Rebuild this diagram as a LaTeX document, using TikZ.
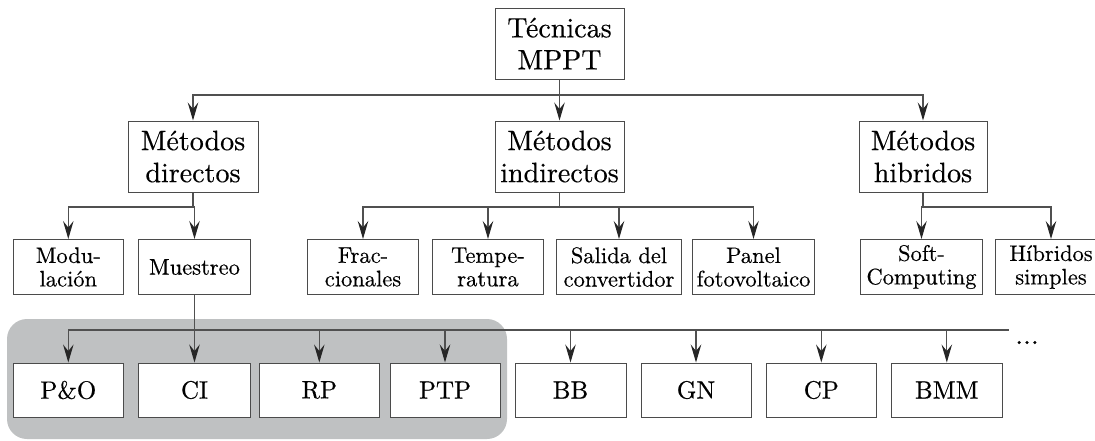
\documentclass[tikz,border=0pt]{standalone}
\usepackage{fontspec}
\setmainfont{lmroman10-regular.otf}[FakeBold=0.4]
\usetikzlibrary{arrows.meta}
\definecolor{linec}{RGB}{80,80,80}
\definecolor{boxc}{RGB}{75,75,75}
\definecolor{grayc}{RGB}{191,193,194}
\tikzset{
  box/.style={draw=boxc, line width=1pt, fill=white, inner sep=0pt, align=center},
  bigbox/.style={box, font=\fontsize{28}{32}\selectfont},
  midbox/.style={box, minimum height=55pt, font=\fontsize{22.5}{23.5}\selectfont},
  lowbox/.style={box, minimum height=54pt, font=\fontsize{25}{25}\selectfont},
  conn/.style={draw=linec, line width=1.2pt},
  arr/.style={conn, -{Stealth[length=18pt,width=10.5pt,inset=6.5pt,color=black!85]}}
}
\begin{document}
\begin{tikzpicture}[x=1pt,y=-1pt]
\useasboundingbox (0,0) rectangle (1095,440);
\begin{scope}
\clip (0,0) rectangle (1095,440);
\fill[grayc, rounded corners=20pt] (7,319) rectangle (507,439);

% level 0
\node[bigbox, minimum width=129pt, minimum height=71pt] (tec) at (559.5,43.5) {Técnicas\\MPPT};
% level 1
\node[bigbox, minimum width=130pt, minimum height=71pt] (md) at (193,156.5) {Métodos\\directos};
\node[bigbox, minimum width=129pt, minimum height=71pt] (mi) at (559.5,156.5) {Métodos\\indirectos};
\node[bigbox, minimum width=128pt, minimum height=71pt] (mh) at (923,156.5) {Métodos\\hibridos};
% level 2
\node[midbox, minimum width=110.5pt] (mod) at (68.3,267) {Modu-\\lación};
\node[midbox, minimum width=112.5pt] (mue) at (194.5,267) {Muestreo};
\node[midbox, minimum width=111pt] (fra) at (363,267) {Frac-\\cionales};
\node[midbox, minimum width=110.5pt] (tem) at (488,267) {Tempe-\\ratura};
\node[midbox, minimum width=125pt] (sal) at (619,267) {Salida del\\convertidor};
\node[midbox, minimum width=122.5pt] (pan) at (753.5,267) {Panel\\fotovoltaico};
\node[midbox, minimum width=122.5pt] (sof) at (921.5,267) {Soft-\\Computing};
\node[midbox, minimum width=111pt] (hs) at (1051,267) {Híbridos\\simples};
% level 3
\node[lowbox, minimum width=110.5pt] (po) at (68.3,390) {P\&O};
\node[lowbox, minimum width=111.5pt] (ci) at (194.5,390) {CI};
\node[lowbox, minimum width=120.5pt] (rp) at (319.3,390) {RP};
\node[lowbox, minimum width=110pt] (ptp) at (445,390) {PTP};
\node[lowbox, minimum width=111pt] (bb) at (570.5,390) {BB};
\node[lowbox, minimum width=110pt] (gn) at (696,390) {GN};
\node[lowbox, minimum width=109.5pt] (cp) at (821.3,390) {CP};
\node[lowbox, minimum width=110.5pt] (bmm) at (946.8,390) {BMM};
\node[font=\fontsize{28}{28}\selectfont, anchor=base, inner sep=0pt] (dots) at (1027,344) {...};

% connectors level 0 -> 1
\coordinate (j1) at (559.5,95);
\draw[conn] (tec) -- (j1);
\draw[arr] (j1) -| (md);
\draw[arr] (j1) -- (mi);
\draw[arr] (j1) -| (mh);
% directos
\coordinate (j2a) at (193,207);
\draw[conn] (md) -- (j2a);
\draw[arr] (j2a) -| (mod);
\draw[arr] (j2a) -| (mue);
% indirectos
\coordinate (j2b) at (559.5,207);
\draw[conn] (mi) -- (j2b);
\draw[arr] (j2b) -| (fra);
\draw[arr] (j2b) -| (tem);
\draw[arr] (j2b) -| (sal);
\draw[arr] (j2b) -| (pan);
% hibridos
\coordinate (j2c) at (923,207);
\draw[conn] (mh) -- (j2c);
\draw[arr] (j2c) -| (sof);
\draw[arr] (j2c) -| (hs);
% level 3
\coordinate (l4L) at (68.3,330);
\coordinate (l4R) at (1009,330);
\draw[conn] (l4L) -- (l4R);
\draw[arr] (mue) -- (ci);
\draw[arr] (l4L) -- (po);
\draw[arr] (rp |- l4L) -- (rp);
\draw[arr] (ptp |- l4L) -- (ptp);
\draw[arr] (bb |- l4L) -- (bb);
\draw[arr] (gn |- l4L) -- (gn);
\draw[arr] (cp |- l4L) -- (cp);
\draw[arr] (bmm |- l4L) -- (bmm);
\end{scope}
\end{tikzpicture}
\end{document}
